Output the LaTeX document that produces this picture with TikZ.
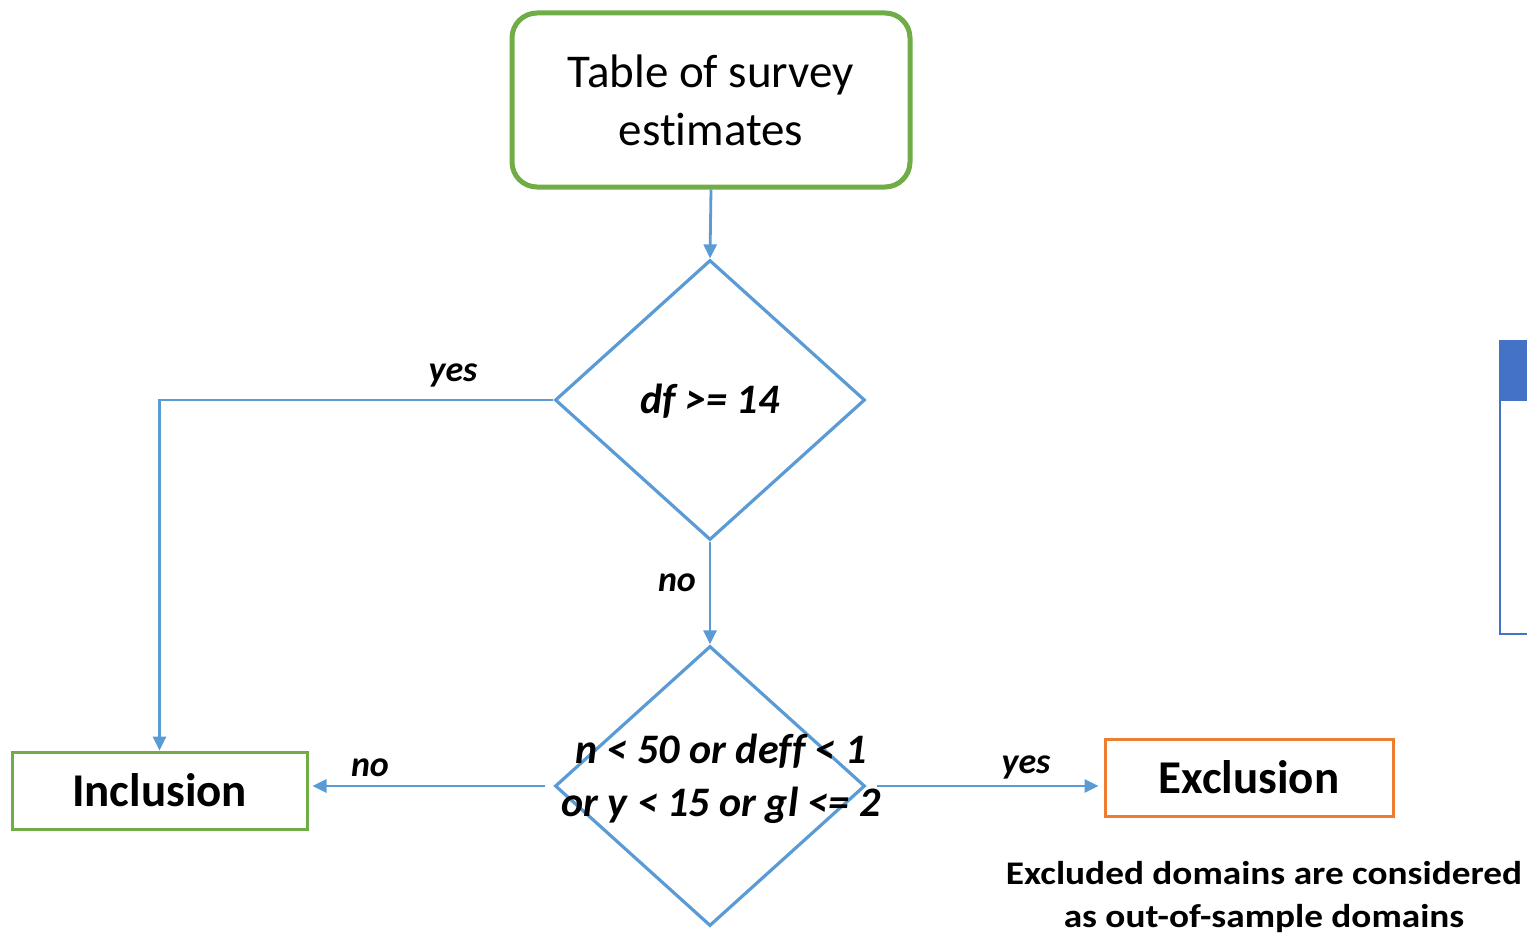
\documentclass[tikz,border=0pt]{standalone}
\usepackage{fontspec}
\setmainfont[Ligatures=NoCommon]{Carlito}
\newfontfamily\widefont[FakeStretch=1.13,Ligatures=NoCommon]{Carlito}
\usetikzlibrary{shapes.geometric,arrows.meta}
\definecolor{lblue}{HTML}{5B9BD5}
\definecolor{lgreen}{HTML}{70AD47}
\definecolor{lorange}{HTML}{ED7D31}
\definecolor{dblue}{HTML}{4472C4}
\tikzset{
  dia/.style={draw=lblue, line width=3.2pt, diamond, minimum width=310pt, minimum height=280pt, inner sep=0pt},
  diatext/.style={font=\fontsize{42}{53}\selectfont\bfseries\itshape, align=center, inner sep=0pt},
  lbl/.style={font=\fontsize{36}{40}\selectfont\bfseries\itshape, inner sep=0pt},
  resbox/.style={draw, line width=3pt, minimum height=77pt, font=\fontsize{47}{56}\selectfont\bfseries, inner sep=0pt},
  arr/.style={draw=lblue, line width=2.8pt, -{Triangle[length=14pt,width=13pt]}},
}
\begin{document}
\begin{tikzpicture}[x=1pt,y=-1pt]
\useasboundingbox (0,0) rectangle (1527,934);
% start box
\node[draw=lgreen, line width=5pt, rounded corners=25pt, minimum width=398pt, minimum height=174pt,
      align=center, font=\fontsize{47}{58}\selectfont, inner sep=0pt] (start) at (711,100) {Table of survey\\estimates};
% decisions
\node[dia] (d1) at (710,400) {};
\node[diatext] (t1) at (710,401) {df >= 14};
\node[dia] (d2) at (710,786) {};
\node[diatext] (t2) at (721,779) {n < 50 or deff < 1\\or y < 15 or gl <= 2};
% results
\node[resbox, draw=lgreen, minimum width=295pt] (incl) at (159.5,790.5) {Inclusion};
\node[resbox, draw=lorange, minimum width=288pt] (excl) at (1249,777.5) {Exclusion};
\node[font=\fontsize{33}{43}\selectfont\bfseries\widefont, align=center, inner sep=0pt] (note) at (1264,897)
  {Excluded domains are considered\\as out-of-sample domains};
% connectors
\draw[arr] (start.south) -- (d1.north);
\draw[arr] (d1.south) -- (d2.north);
\draw[arr] (d1.west) -| (incl.north);
\draw[arr, shorten <=8pt, shorten >=4pt] (d2.west) -- (d2.west -| incl.east);
\draw[arr, shorten <=10pt, shorten >=5pt] (d2.east) -- (d2.east -| excl.west);
% labels
\node[lbl] (l1) at (453,375) {yes};
\node[lbl] (l2) at (677,583) {no};
\node[lbl] (l3) at (370,768) {no};
\node[lbl] (l4) at (1026,767) {yes};
% partial box at right edge
\fill[dblue] (1500,340) rectangle (1527,401);
\draw[dblue, line width=2pt] (1500,340) -- (1500,634) -- (1527,634);
\end{tikzpicture}
\end{document}
